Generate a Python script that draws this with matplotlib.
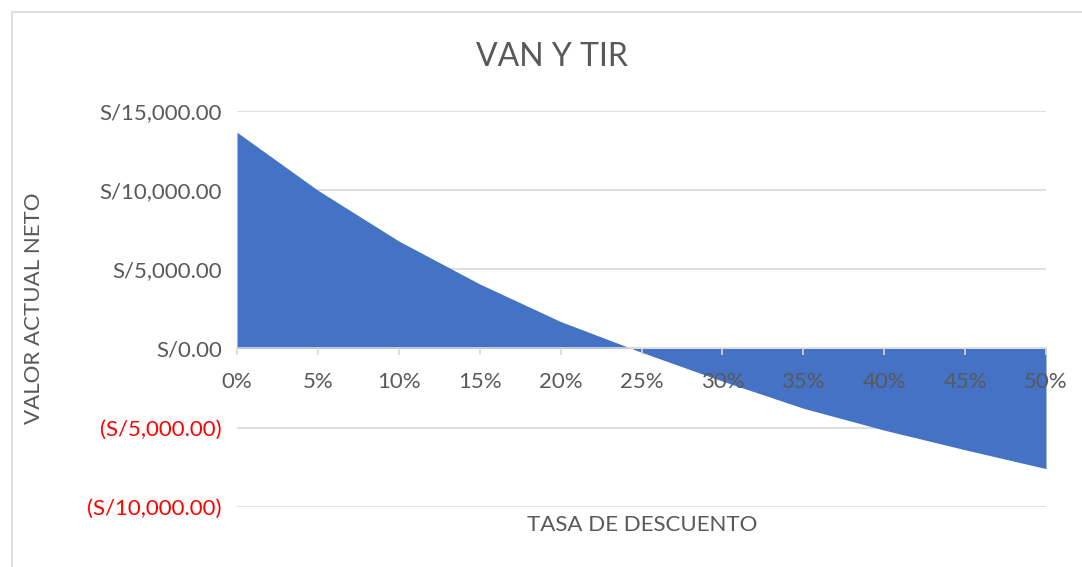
import matplotlib
matplotlib.use("Agg")
import matplotlib.pyplot as plt
from matplotlib.patches import Rectangle
from matplotlib.ticker import FuncFormatter

# Data
rates = ["0%", "5%", "10%", "15%", "20%", "25%", "30%", "35%", "40%", "45%", "50%"]
npv = [13640, 9980, 6780, 4070, 1700, -240, -2060, -3770, -5150, -6390, -7580]
y_ticks = [-10000, -5000, 0, 5000, 10000, 15000]

plt.rcParams['font.family'] = ['Lato', 'DejaVu Sans']
W, H = 1082, 567
fig = plt.figure(figsize=(W / 100, H / 100), dpi=100)
ax = fig.add_axes([237 / W, 1 - 507 / H, (1046 - 237) / W, (507 - 110.7) / H])

x = list(range(len(rates)))
for v in y_ticks:
    if v != 0:
        ax.axhline(v, color="#D9D9D9", linewidth=1.2, zorder=0.5)
ax.fill_between(x, npv, 0, color="#4472C4", linewidth=0, zorder=1)

ax.set_xlim(0, len(rates) - 1)
ax.set_ylim(-10000, 15000)
ax.set_yticks(y_ticks)

def fmt(v, pos):
    if v < 0:
        return "(S/{:,.2f})".format(-v)
    return "S/{:,.2f}".format(v)

ax.yaxis.set_major_formatter(FuncFormatter(fmt))
ax.tick_params(axis='y', length=0, pad=11, labelsize=16, labelcolor="#595959")
for lbl, v in zip(ax.get_yticklabels(), y_ticks):
    if v < 0:
        lbl.set_color("red")

ax.set_axisbelow(False)
for s in ["top", "right", "left"]:
    ax.spines[s].set_visible(False)
ax.spines["bottom"].set_position(("data", 0))
ax.spines["bottom"].set_color("#D9D9D9")
ax.spines["bottom"].set_linewidth(1.2)
ax.spines["bottom"].set_zorder(3)

ax.set_xticks(x)
ax.set_xticklabels(rates)
ax.tick_params(axis='x', direction='out', length=5, width=1.2, color="#D9D9D9",
               pad=12, labelsize=16, labelcolor="#595959")
ax.xaxis.set_zorder(3)

fig.text(552 / W, 1 - 57 / H, "VAN Y TIR", ha="center", va="center",
         fontsize=23, color="#595959")
fig.text(642 / W, 1 - 525 / H, "TASA DE DESCUENTO", ha="center", va="center",
         fontsize=16, color="#595959")
fig.text(34 / W, 1 - 308 / H, "VALOR ACTUAL NETO", ha="center", va="center",
         rotation=90, fontsize=16, color="#595959")

fig.patches.append(Rectangle((12 / W, -0.1), 1.2, 1.1 - 11.5 / H,
                             transform=fig.transFigure, fill=False,
                             edgecolor="#D9D9D9", linewidth=1.2))

fig.savefig("out.png", dpi=100)
